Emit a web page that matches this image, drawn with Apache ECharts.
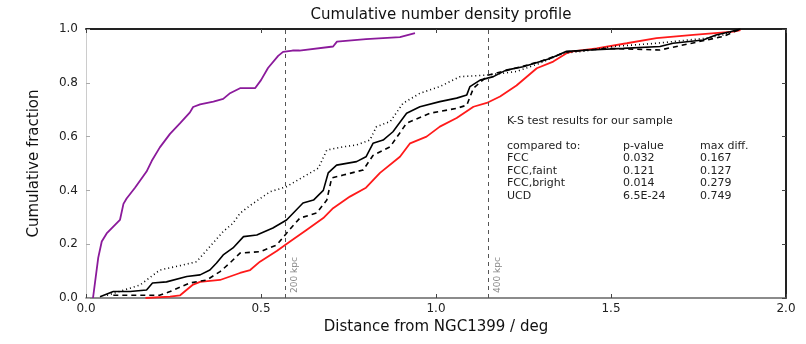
<!DOCTYPE html>
<html><head><meta charset="utf-8">
<script src="https://cdn.jsdelivr.net/npm/echarts@6/dist/echarts.min.js"></script>
<style>html,body{margin:0;padding:0;background:#fff}#c{width:806px;height:344px}</style>
</head><body><div id="c"></div>
<script>
const titleText = 'Cumulative number density profile';
const xName = 'Distance from NGC1399 / deg';
const yName = 'Cumulative fraction';
const ucd = [[0.02,0],[0.035,0.15],[0.045,0.21],[0.059,0.24],[0.097,0.29],[0.107,0.35],[0.116,0.37],[0.14,0.41],[0.173,0.47],[0.188,0.51],[0.211,0.56],[0.24,0.61],[0.269,0.65],[0.297,0.69],[0.306,0.71],[0.326,0.72],[0.364,0.73],[0.392,0.74],[0.41,0.76],[0.44,0.78],[0.483,0.78],[0.50,0.81],[0.52,0.855],[0.549,0.90],[0.563,0.915],[0.59,0.92],[0.61,0.92],[0.706,0.935],[0.717,0.953],[0.80,0.962],[0.897,0.97],[0.94,0.985]];
const sample = [[0.17,0],[0.24,0.005],[0.269,0.01],[0.306,0.05],[0.326,0.06],[0.383,0.067],[0.44,0.093],[0.469,0.104],[0.497,0.135],[0.545,0.175],[0.583,0.21],[0.63,0.253],[0.678,0.297],[0.706,0.334],[0.754,0.377],[0.80,0.41],[0.84,0.465],[0.897,0.525],[0.926,0.575],[0.973,0.60],[1.011,0.637],[1.059,0.669],[1.107,0.711],[1.145,0.725],[1.183,0.749],[1.23,0.79],[1.288,0.854],[1.335,0.879],[1.373,0.91],[1.392,0.917],[1.459,0.928],[1.545,0.947],[1.63,0.966],[1.735,0.978],[1.85,0.99],[1.87,0.996]];
const fcc = [[0.04,0.005],[0.078,0.024],[0.126,0.024],[0.173,0.03],[0.19,0.056],[0.23,0.06],[0.288,0.08],[0.326,0.086],[0.354,0.104],[0.373,0.13],[0.392,0.16],[0.42,0.186],[0.45,0.228],[0.488,0.234],[0.534,0.26],[0.573,0.29],[0.62,0.353],[0.65,0.364],[0.678,0.40],[0.692,0.465],[0.716,0.494],[0.773,0.507],[0.80,0.525],[0.82,0.575],[0.849,0.587],[0.877,0.618],[0.916,0.687],[0.954,0.711],[1.011,0.73],[1.059,0.743],[1.088,0.755],[1.097,0.786],[1.126,0.81],[1.164,0.823],[1.20,0.847],[1.249,0.86],[1.326,0.89],[1.373,0.917],[1.44,0.922],[1.535,0.928],[1.64,0.935],[1.677,0.947],[1.763,0.959],[1.80,0.978],[1.84,0.99],[1.87,1.0]];
const fccFaint = [[0.078,0.01],[0.21,0.01],[0.24,0.024],[0.297,0.056],[0.345,0.067],[0.383,0.098],[0.411,0.13],[0.44,0.167],[0.497,0.172],[0.545,0.197],[0.573,0.241],[0.611,0.297],[0.659,0.316],[0.688,0.364],[0.702,0.446],[0.735,0.457],[0.792,0.476],[0.82,0.53],[0.869,0.562],[0.916,0.65],[0.983,0.687],[1.059,0.705],[1.088,0.717],[1.107,0.78],[1.15,0.829],[1.20,0.845],[1.30,0.88],[1.373,0.915],[1.487,0.928],[1.64,0.922],[1.773,0.959],[1.82,0.972],[1.87,1.0]];
const fccBright = [[0.06,0.01],[0.154,0.048],[0.211,0.104],[0.278,0.123],[0.316,0.135],[0.392,0.247],[0.42,0.278],[0.44,0.315],[0.469,0.344],[0.526,0.395],[0.573,0.414],[0.63,0.457],[0.664,0.483],[0.688,0.55],[0.735,0.562],[0.773,0.569],[0.811,0.587],[0.83,0.637],[0.869,0.656],[0.906,0.724],[0.954,0.761],[1.011,0.786],[1.069,0.823],[1.15,0.829],[1.23,0.842],[1.297,0.873],[1.363,0.91],[1.42,0.917],[1.507,0.935],[1.63,0.947],[1.773,0.966],[1.82,0.978],[1.87,1.0]];
const vLines = [0.569, 1.149];
const vLabels = ['200 kpc', '400 kpc'];
const ksTitle = 'K-S test results for our sample';
const ksHeader = ['compared to:', 'p-value', 'max diff.'];
const ksNames = ['FCC', 'FCC,faint', 'FCC,bright', 'UCD'];
const ksP = ['0.032', '0.121', '0.014', '6.5E-24'];
const ksD = ['0.167', '0.127', '0.279', '0.749'];

const F = 'DejaVu Sans';
const chart = echarts.init(document.getElementById('c'), null, {renderer:'canvas'});
function ln(name, data, color, type, width){
  return {name, type:'line', data, showSymbol:false, symbol:'none', animation:false,
    lineStyle:{color, width, type}, z:3};
}
const series = [
  ln('UCD', ucd, '#8b1a9b', 'solid', 1.8),
  ln('sample', sample, '#ff1a1a', 'solid', 1.8),
  ln('FCC', fcc, '#000', 'solid', 1.6),
  ln('FCC,faint', fccFaint, '#000', [5,4], 1.6),
  ln('FCC,bright', fccBright, '#000', [1,3,1,3], 1.6),
  {type:'line', data:[], animation:false, silent:true,
   markLine:{symbol:'none', silent:true, animation:false,
     lineStyle:{color:'#555', type:[4,4], width:1},
     label:{show:true, position:'insideStartBottom', color:'#888', fontSize:9, fontFamily:F,
       formatter:p=>vLabels[p.dataIndex]},
     data: vLines.map(v=>({xAxis:v}))}}
];
const graphics = [];
graphics.push({type:'text', left:507, top:116, style:{text:ksTitle, font:'11px '+F, fill:'#222'}});
const colX = [507, 623, 700];
ksHeader.forEach((t,i)=>graphics.push({type:'text', left:colX[i], top:141, style:{text:t, font:'11px '+F, fill:'#222'}}));
ksNames.forEach((n,r)=>{
  const top = 153 + r*12.5;
  graphics.push({type:'text', left:colX[0], top, style:{text:n, font:'11px '+F, fill:'#222'}});
  graphics.push({type:'text', left:colX[1], top, style:{text:ksP[r], font:'11px '+F, fill:'#222'}});
  graphics.push({type:'text', left:colX[2], top, style:{text:ksD[r], font:'11px '+F, fill:'#222'}});
});
chart.setOption({
  backgroundColor:'#fff',
  animation:false,
  title:{text:titleText, left:436, top:3, textAlign:'center',
    textStyle:{fontFamily:F, fontSize:15, fontWeight:'normal', color:'#111'}},
  grid:{left:86, right:20, top:29, bottom:46, containLabel:false},
  xAxis:[{type:'value', min:0, max:2, interval:0.5, position:'bottom',
    name:xName, nameLocation:'middle', nameGap:21,
    nameTextStyle:{fontFamily:F, fontSize:15, color:'#111'},
    axisLine:{show:true, onZero:false, lineStyle:{color:'#666', width:1.5}},
    axisTick:{show:true, inside:true, length:4, lineStyle:{color:'#444'}},
    axisLabel:{fontFamily:F, fontSize:12, color:'#222', margin:5, formatter:v=>v.toFixed(1)},
    splitLine:{show:false}},
   {type:'value', min:0, max:2, interval:0.5, position:'top',
    axisLine:{show:true, onZero:false, lineStyle:{color:'#222', width:2}},
    axisTick:{show:true, inside:true, length:4, lineStyle:{color:'#444'}},
    axisLabel:{show:false}, splitLine:{show:false}}],
  yAxis:[{type:'value', min:0, max:1, interval:0.2, position:'left',
    name:yName, nameLocation:'middle', nameGap:44,
    nameTextStyle:{fontFamily:F, fontSize:15, color:'#111'},
    axisLine:{show:true, onZero:false, lineStyle:{color:'#ccc', width:1}},
    axisTick:{show:true, inside:true, length:4, lineStyle:{color:'#aaa'}},
    axisLabel:{fontFamily:F, fontSize:12, color:'#222', margin:8, formatter:v=>v.toFixed(1)},
    splitLine:{show:false}},
   {type:'value', min:0, max:1, interval:0.2, position:'right',
    axisLine:{show:true, onZero:false, lineStyle:{color:'#222', width:2}},
    axisTick:{show:true, inside:true, length:4, lineStyle:{color:'#444'}},
    axisLabel:{show:false}, splitLine:{show:false}}],
  series,
  graphic:graphics
});
</script></body></html>
